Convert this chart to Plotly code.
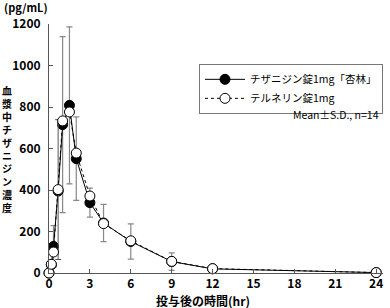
import plotly.graph_objects as go

# Data
time_hr = [0, 0.17, 0.33, 0.67, 1, 1.5, 2, 3, 4, 6, 9, 12, 24]
generic_mean = [0, 40, 128, 395, 715, 808, 551, 339, 241, 152, 55, 20, 2]
generic_sd = [0, 0, 100, 0, 424, 378, 201, 70, 90, 85, 42, 10, 0]
brand_mean = [0, 42, 101, 402, 733, 776, 578, 371, 238, 155, 56, 21, 2]
brand_sd = [0, 0, 0, 337, 0, 0, 0, 0, 0, 0, 0, 0, 0]

x_ticks = [0, 3, 6, 9, 12, 15, 18, 21, 24]
y_ticks = [0, 200, 400, 600, 800, 1000, 1200]

name_generic = "チザニジン錠1mg「杏林」"
name_brand = "テルネリン錠1mg"
y_title = "血漿中チザニジン濃度"

JP = "Noto Sans CJK JP"

fig = go.Figure()

fig.add_trace(go.Scatter(
    x=time_hr, y=generic_mean, name=name_generic, mode="lines+markers",
    line=dict(color="black", width=1),
    marker=dict(symbol="circle", size=10, color="black", line=dict(color="black", width=1)),
    error_y=dict(type="data", array=generic_sd, color="#888888", thickness=1.2, width=3),
    cliponaxis=False,
))
fig.add_trace(go.Scatter(
    x=time_hr, y=brand_mean, name=name_brand, mode="lines+markers",
    line=dict(color="black", width=1, dash="dot"),
    marker=dict(symbol="circle", size=10, color="white", line=dict(color="black", width=1)),
    error_y=dict(type="data", array=brand_sd, color="#555555", thickness=1, width=3),
    cliponaxis=False,
))

annotations = [
    dict(text="(pg/mL)", xref="paper", yref="paper", x=-0.14, y=1.0, yshift=17,
         xanchor="left", yanchor="middle", showarrow=False,
         font=dict(family=JP, size=11, weight="bold")),
    dict(text="Mean±S.D., n=14", xref="paper", yref="paper", x=0.995, y=0.635,
         xanchor="right", yanchor="middle", showarrow=False,
         font=dict(family=JP, size=10.5)),
    dict(text="投与後の時間(hr)", xref="paper", yref="paper", x=0.46, y=0, yshift=-27,
         xanchor="center", yanchor="middle", showarrow=False,
         font=dict(family=JP, size=12, weight="bold")),
    dict(text="<br>".join(list(y_title)), xref="paper", yref="paper", x=-0.126, y=0.5,
         xanchor="center", yanchor="middle", showarrow=False,
         font=dict(family=JP, size=10, weight="bold")),
]

fig.update_layout(
    width=390, height=308,
    margin=dict(l=49, r=7, t=24, b=35),
    paper_bgcolor="white", plot_bgcolor="white",
    font=dict(family=JP, size=11, color="black"),
    showlegend=True,
    legend=dict(
        x=1.0, xanchor="right", y=0.84, yanchor="top",
        bordercolor="#777777", borderwidth=1, bgcolor="white",
        font=dict(family=JP, size=10.5, color="black"),
        tracegroupgap=0, itemwidth=40,
    ),
    xaxis=dict(
        range=[0, 24.5], tickvals=x_ticks, ticks="inside", ticklen=4,
        tickcolor="#555555", showline=True, linecolor="#555555", linewidth=1,
        showgrid=False, zeroline=False, automargin=False,
        tickfont=dict(family=JP, size=12, color="black", weight="bold"),
    ),
    yaxis=dict(
        range=[0, 1200], tickvals=y_ticks, ticks="inside", ticklen=4,
        tickcolor="#555555", showline=True, linecolor="#555555", linewidth=1,
        showgrid=False, zeroline=False, ticklabelstandoff=5, automargin=False,
        tickfont=dict(family=JP, size=12, color="black", weight="bold"),
    ),
    annotations=annotations,
)

fig.write_html("out.html")
